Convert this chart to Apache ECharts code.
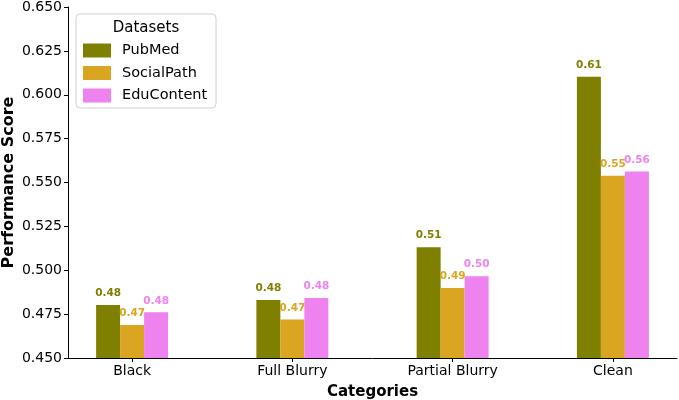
<!DOCTYPE html>
<html>
<head>
<meta charset="utf-8">
<script src="https://cdn.jsdelivr.net/npm/echarts@6/dist/echarts.min.js"></script>
<style>
  html, body { margin: 0; padding: 0; background: #fff; }
  #chart { width: 679px; height: 400px; }
</style>
</head>
<body>
<div id="chart"></div>
<script>
  // data
  var categories = ['Black', 'Full Blurry', 'Partial Blurry', 'Clean'];
  var pubmed = [0.4802, 0.4830, 0.5131, 0.6103];
  var socialPath = [0.4688, 0.4720, 0.4899, 0.5539];
  var eduContent = [0.4760, 0.4842, 0.4966, 0.5562];
  var yTicks = [0.450, 0.475, 0.500, 0.525, 0.550, 0.575, 0.600, 0.625, 0.650];

  var colors = ['#808000', '#DAA520', '#EE82EE'];
  var font = 'DejaVu Sans';

  // value x axis so the category spacing matches the original
  function toPairs(arr) {
    return arr.map(function (v, i) { return [i, v]; });
  }

  function makeSeries(name, arr, color) {
    return {
      name: name,
      type: 'bar',
      barWidth: 24,
      barGap: '0%',
      itemStyle: { color: color },
      label: {
        show: true,
        position: 'top',
        distance: 6,
        color: color,
        fontFamily: font,
        fontWeight: 'bold',
        fontSize: 10.5,
        formatter: function (p) { return p.value[1].toFixed(2); }
      },
      data: toPairs(arr)
    };
  }

  var chart = echarts.init(document.getElementById('chart'), null, { renderer: 'canvas' });
  chart.setOption({
    animation: false,
    textStyle: { fontFamily: font },
    grid: { left: 68, right: 2, top: 7, bottom: 42, containLabel: false, outerBoundsMode: 'none' },
    xAxis: {
      type: 'value',
      min: -0.4,
      max: 3.4,
      name: 'Categories',
      nameLocation: 'middle',
      nameGap: 27,
      nameMoveOverlap: false,
      nameTextStyle: { fontFamily: font, fontWeight: 'bold', fontSize: 15, color: '#000' },
      axisLine: { show: true, onZero: false, lineStyle: { color: '#000', width: 1 } },
      axisTick: { show: true, length: 4, lineStyle: { color: '#000' }, customValues: [0, 1, 2, 3] },
      axisLabel: {
        color: '#000', fontSize: 14, fontFamily: font, margin: 6,
        customValues: [0, 1, 2, 3],
        formatter: function (v) { return categories[Math.round(v)]; }
      },
      splitLine: { show: false }
    },
    yAxis: {
      type: 'value',
      min: yTicks[0],
      max: yTicks[yTicks.length - 1],
      interval: 0.025,
      name: 'Performance Score',
      nameLocation: 'middle',
      nameGap: 51,
      nameMoveOverlap: false,
      nameTextStyle: { fontFamily: font, fontWeight: 'bold', fontSize: 16, color: '#000' },
      axisLine: { show: true, onZero: false, lineStyle: { color: '#000', width: 1 } },
      axisTick: { show: true, length: 4, lineStyle: { color: '#000' } },
      axisLabel: {
        color: '#000', fontSize: 14, fontFamily: font, margin: 6,
        formatter: function (v) { return v.toFixed(3); }
      },
      splitLine: { show: false }
    },
    graphic: [
      {
        type: 'rect', z: 0,
        shape: { x: 76, y: 14, width: 140, height: 94, r: 4 },
        style: { fill: 'rgba(255,255,255,0.8)', stroke: '#d0d0d0', lineWidth: 1 }
      },
      {
        type: 'text', z: 1,
        x: 146, y: 28,
        style: { text: 'Datasets', fill: '#000', font: '15px "DejaVu Sans"', textAlign: 'center', textVerticalAlign: 'middle' }
      }
    ],
    legend: {
      z: 5,
      orient: 'vertical',
      left: 78,
      top: 38,
      itemWidth: 28,
      itemHeight: 14,
      itemGap: 7.5,
      icon: 'rect',
      textStyle: { fontFamily: font, fontSize: 14.5, color: '#000', padding: [0, 0, 0, 6] },
      data: ['PubMed', 'SocialPath', 'EduContent']
    },
    series: [
      makeSeries('PubMed', pubmed, colors[0]),
      makeSeries('SocialPath', socialPath, colors[1]),
      makeSeries('EduContent', eduContent, colors[2])
    ]
  });
</script>
</body>
</html>
